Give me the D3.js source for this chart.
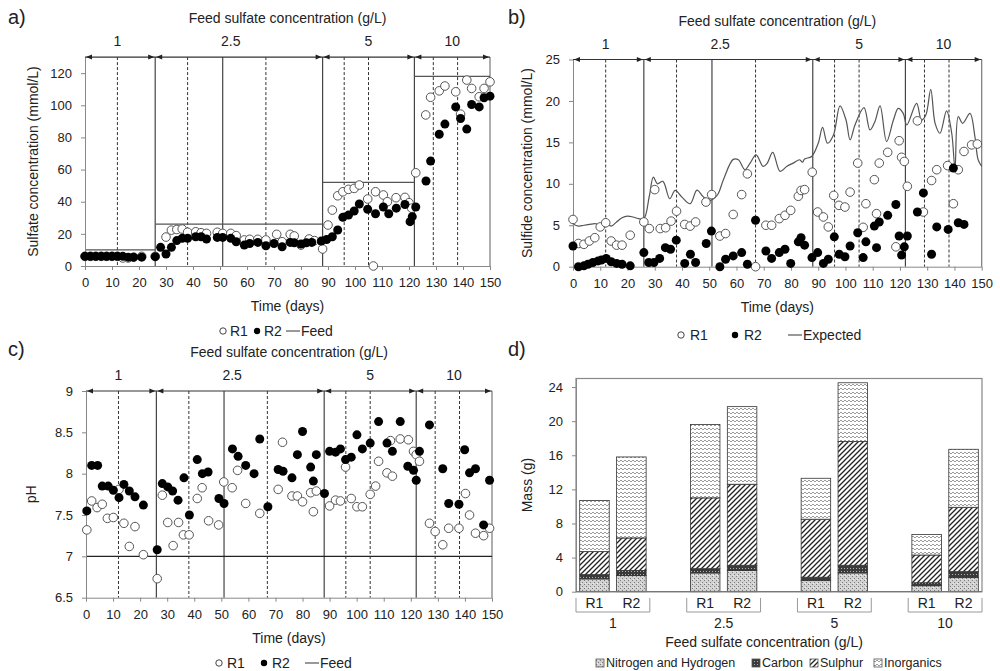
<!DOCTYPE html>
<html><head><meta charset="utf-8">
<script src="https://cdn.jsdelivr.net/npm/d3@7"></script>
<style>
body{margin:0;background:#fff}
svg{display:block}
text{font-family:'Liberation Sans',Arial,sans-serif;fill:#222}
</style>
</head><body>
<script>
// ---------------- DATA ----------------
const phaseStart = [0, 26, 88, 122];
const phaseEnd = [26, 88, 122, 150];
const phaseLabels = ["1", "2.5", "5", "10"];
const phaseLabelDays = [12, 54, 105, 136];
const solidDays = [26, 51, 88, 122];
const dashedDays = [12, 38, 67, 96, 105, 129, 138];
const dayTicks = [0,10,20,30,40,50,60,70,80,90,100,110,120,130,140,150];

// a) sulfate (mmol/L)
const sulfateR1 = [[0,6],[2,6],[4,6],[6,6],[8,6],[10,6],[12,6],[14,5],[16,5],[18,5.5],[21,6],
[26,6],[30,18],[32,22.3],[34,22.7],[36,23],[38,21],[41,21.3],[43,20.7],[45,20.3],[49,21],[51,20.3],[54,20.3],[56,18.9],[59,16.2],[61,16.6],[64,16.6],[67,16.2],[71,19.7],[73,15.1],[76,19.7],[77.5,18.7],[80,13],[83,16.8],[85,15.8],[88,10.6],
[90,25.5],[91.6,34.8],[93.6,43.7],[95.5,46.2],[97.6,47.7],[99.7,48.3],[101.6,50.4],[104.7,41.7],[106.8,0],[107.6,46.2],[110.5,44.2],[112,40],[115.2,42.5],[118.5,42.7],[120,39.4],[121,36],
[122.5,58],[126.2,94],[128,105],[131.2,109],[133.3,112],[137.3,108.4],[139.1,94.5],[141.4,115.7],[143.2,110.5],[146,105.3],[147.8,110.5],[150,114.6]];
const sulfateR2 = [[0,6],[2,6],[4,6],[6,6],[8,6],[10,6],[12,6],[14,6],[16,5.5],[18,5.5],[21,5.5],
[26,5.8],[28,11.6],[30,7.5],[32,11.6],[34,15.8],[36,17.2],[38,17.2],[41,18.2],[43,18.2],[45,16.8],[49,17.8],[51,17.8],[54,17.2],[56,15.1],[59,13],[61,14],[64,14.7],[67,12.6],[70,14],[73,12],[76,14.7],[77.5,14.5],[80,13.7],[82,14.5],[84,14.7],[87.5,15.5],
[89.5,16.5],[91.6,18.2],[93.6,22.4],[95.5,30.3],[97.6,31.7],[99.7,34.2],[101.6,38.6],[104.7,35.3],[107.6,32.5],[110.5,36.7],[112.5,32.5],[115.3,36],[118.5,38.3],[120.4,27.6],[121.2,30.7],
[122.5,36.7],[126.3,52.9],[128,65.3],[131.2,82],[133.3,88.3],[137.3,99],[139.1,91.8],[141.4,85.2],[143.2,100.5],[146,99],[147.8,104.7],[150,105.7]];
const feedSulfate = [10, 26, 52, 118];

// b) sulfide (mmol/L)
const sulfideR1 = [[0,5.7],[2,2.8],[4,2.7],[6,3.1],[8,3.5],[10,4.8],[12,5.3],[14,3.1],[16,2.6],[18,2.6],[21,3.8],
[26,5.4],[28,4.6],[30,9.3],[32,4.6],[34,4.7],[36,5.5],[38,6.7],[41,5.1],[43,4.9],[45,5.4],[48.8,7.8],[50.9,8.7],[53.9,3.7],[56,4.0],[58.8,6.3],[61.9,8.7],[64,11.2],[67,0],[70.8,5.0],[72.9,5.0],[75.7,5.8],[77.8,6.2],[79.9,6.8],[82.7,8.5],[83.7,9.2],[85,9.3],[87.8,11.4],
[89.8,6.6],[91.9,6.0],[93.7,4.8],[95.7,8.6],[97.6,7.4],[99.8,7.2],[101.7,9.0],[104.5,12.5],[106.5,4.75],[107.5,7.6],[110.6,10.5],[111.4,6.4],[112.4,12.5],[115.5,13.8],[118.5,2.4],[119.7,15.2],[120.6,13.2],[121.6,12.7],
[122.7,9.7],[126.4,17.6],[128.6,6.6],[131.6,10.4],[133.5,11.7],[137.5,12.2],[139.6,7.6],[141.4,11.7],[143.5,13.9],[146.3,14.7],[148.4,14.8]];
const sulfideR2 = [[0,2.5],[2,0],[4,0.1],[5.5,0.3],[7.3,0.5],[9.2,0.7],[10.4,0.8],[12.2,1.0],[14,0.6],[16,0.4],[18,0.3],[21,0.1],
[26,1.7],[27.8,0.5],[29.7,0.5],[31.8,1.0],[33.9,2.3],[35.8,2.1],[37.9,3.2],[41,0.4],[43.1,1.5],[45,0.5],[48.9,2.8],[50.8,4.3],[53.9,0],[56,0.9],[58.8,1.3],[61.9,1.7],[64,0.3],[67,5.6],[70.8,1.9],[72.9,1.0],[75.7,1.7],[77.8,2.1],[79.9,0.4],[82.7,3.0],[83.7,3.5],[85,2.6],[87.7,1.1],
[89.8,1.7],[91.9,0.4],[93.7,0.9],[95.9,3.6],[97.7,1.5],[99.8,1.2],[101.7,2.5],[104.5,4.1],[106.5,1.1],[107.5,3.0],[110.6,4.9],[111.4,2.3],[112.4,5.4],[115.5,6.2],[118.5,7.5],[119.7,3.7],[120.6,1.4],[121.6,2.4],
[122.7,3.7],[126.4,6.6],[128.6,8.9],[131.6,1.5],[133.5,4.8],[137.7,4.5],[139.6,11.9],[141.4,5.3],[143.5,5.1]];
const expectedSulfide = [[0,5.15],[2,4.9],[4,5.0],[6,5.1],[8,5.2],[10,5.1],[12,5.3],[14,4.9],[16,5.4],[18,5.9],[20,6.1],[22,6.0],[24,5.8],[26,5.8],[28,8.5],[29.5,10.8],[31,10.0],[33,10.3],[35.5,8.2],[37.5,9.2],[40,8.4],[43,7.6],[45.5,9.25],[47.9,8.4],[50.3,8.0],[53,8.65],[55.2,10.5],[58.8,12.95],[60.7,12.9],[63.1,11.7],[65,12.5],[67.2,13.5],[69.8,12.1],[71.3,12.5],[73.3,13.8],[76,11.5],[78.4,12.1],[80.8,12.5],[83.2,12.9],[84.2,12.6],[85,13],[87.6,13.3],[90,14.9],[91.6,16.8],[93.4,14.9],[95.6,15.9],[98,19.4],[100.2,17.7],[101.7,15.3],[103.5,17.1],[106.8,19.2],[109,16.5],[110.8,17.5],[112.7,19.4],[115.1,15.1],[117.6,17.7],[119.4,19.1],[121.2,18.5],[122.5,17.1],[126.1,19.7],[127.9,17.7],[129.5,18.3],[131.3,21.4],[132.9,17.3],[134.7,16.1],[137.1,18.8],[139,16.1],[140.2,11.9],[141.4,18.1],[143,17.3],[145.7,18.5],[147.5,15.7],[148.7,12.9],[150,12.1]];

// c) pH
const phR1 = [[0.3,7.32],[2.1,7.67],[4.1,7.59],[6,7.63],[7.9,7.46],[10.1,7.47],[12.2,7.81],[14,7.4],[16,7.12],[18.1,7.36],[21.2,7.02],
[26.3,6.73],[28.2,7.74],[30.2,7.41],[32.2,7.13],[34.2,7.41],[36,7.26],[38.1,7.26],[41.1,7.7],[42.9,7.83],[45.3,7.43],[49,7.38],[50.9,7.9],[54,7.83],[56,8.04],[59,7.64],[64.2,7.52],[71,7.81],[72.6,8.38],[76.1,7.73],[78.1,7.73],[80,7.66],[83,7.77],[84,7.54],[85.1,7.79],
[90,7.61],[92.2,7.68],[94,7.67],[95.9,8.08],[98,7.7],[100.1,7.6],[102.1,7.6],[105,7.75],[107,7.85],[108.1,8.15],[111.2,8.01],[112.5,8.4],[113.2,7.97],[116.1,8.42],[119.1,8.41],[121,8.27],[122,8.23],[123.2,8.15],
[126.9,7.4],[129,7.3],[131.8,7.14],[134,7.34],[137.8,7.34],[140.2,7.76],[141.7,7.5],[143.9,7.28],[146.9,7.25],[149.1,7.34]];
const phR2 = [[0.3,7.55],[2.1,8.1],[4.3,8.1],[6,7.85],[8.2,7.85],[10.1,7.8],[12.2,7.71],[14,7.87],[16,7.79],[18.1,7.72],[21.2,7.62],
[26.3,7.08],[28.2,7.88],[30.2,7.84],[32,7.79],[34,7.68],[36.2,7.95],[38.2,7.5],[41.1,8.17],[43,8.0],[45.1,8.02],[49.1,7.7],[51,7.64],[54.1,8.3],[56.2,8.21],[59,8.1],[62.1,8.0],[64.2,8.42],[67.2,7.6],[71,8.05],[72.8,8.03],[76.1,7.95],[78.1,8.23],[80,8.51],[83,8.08],[84,7.91],[85.1,8.23],[88.1,7.76],
[90,8.27],[92.2,8.26],[94,8.3],[95.9,8.17],[98,8.2],[100.1,8.47],[102.1,8.3],[105,8.37],[108.1,8.63],[111.2,8.37],[113.2,8.27],[116.1,8.63],[118.9,8.09],[121,8.04],[122,7.92],[123.2,8.27],
[126.9,8.59],[131.8,8.06],[134,7.64],[137.8,7.63],[139.9,8.29],[141.7,8.01],[143.9,8.06],[146.9,7.38],[149.1,7.92]];
const feedPH = 7;

// d) mass balance (g)
const feedGroups = ["1", "2.5", "5", "10"];
const reactors = ["R1", "R2"];
const nitrogenHydrogen = [1.5, 1.9, 2.2, 2.5, 1.3, 2.2, 0.7, 1.65];
const carbon = [0.5, 0.6, 0.5, 0.6, 0.4, 0.9, 0.35, 0.7];
const sulphur = [2.7, 3.8, 8.3, 9.5, 6.8, 14.5, 3.25, 7.55];
const inorganics = [6.0, 9.5, 8.6, 9.1, 4.8, 6.9, 2.4, 6.8];
const massTicks = [0, 4, 8, 12, 16, 20, 24];
const componentNames = ["Nitrogen and Hydrogen", "Carbon", "Sulphur", "Inorganics"];

// ---------------- DRAW ----------------
const svg = d3.select("body").append("svg").attr("width", 1000).attr("height", 671);
const defs = svg.append("defs");

function styleAxis(sel) {
  sel.select(".domain").attr("stroke", "#888");
  sel.selectAll(".tick line").attr("stroke", "#888");
  sel.selectAll(".tick text").attr("font-size", 13).attr("fill", "#222")
    .attr("font-family", "'Liberation Sans',Arial,sans-serif");
}

function timePanel(c) {
  const g = svg.append("g");
  const x = d3.scaleLinear().domain([0, 150]).range([c.xl, c.xr]);
  const y = d3.scaleLinear().domain(c.yDomain).range([c.yb, c.yt]);
  const yT = y(c.yDomain[1]), yB = y(c.yDomain[0]);

  g.selectAll("line.dash").data(dashedDays).join("line").attr("class", "dash")
    .attr("x1", d => x(d)).attr("x2", d => x(d)).attr("y1", yT).attr("y2", yB)
    .attr("stroke", "#333").attr("stroke-width", 1).attr("stroke-dasharray", "3,2");
  g.selectAll("line.solid").data(solidDays).join("line").attr("class", "solid")
    .attr("x1", d => x(d)).attr("x2", d => x(d)).attr("y1", yT).attr("y2", yB)
    .attr("stroke", "#444").attr("stroke-width", 1.2);
  g.append("line").attr("x1", x(150)).attr("x2", x(150)).attr("y1", yT).attr("y2", yB)
    .attr("stroke", "#777").attr("stroke-width", 1.2);

  if (c.feedLevels) {
    g.selectAll("line.feed").data(c.feedLevels).join("line").attr("class", "feed")
      .attr("x1", (d, i) => x(phaseStart[i])).attr("x2", (d, i) => x(phaseEnd[i]))
      .attr("y1", d => y(d)).attr("y2", d => y(d))
      .attr("stroke", "#555").attr("stroke-width", 1.2);
  }
  if (c.flatLine !== undefined) {
    g.append("line").attr("x1", x(0)).attr("x2", x(150)).attr("y1", y(c.flatLine)).attr("y2", y(c.flatLine))
      .attr("stroke", "#222").attr("stroke-width", 1.1);
  }
  if (c.curve) {
    g.append("path").datum(c.curve)
      .attr("d", d3.line().x(d => x(d[0])).y(d => y(d[1])).curve(d3.curveCatmullRom.alpha(0.5)))
      .attr("fill", "none").attr("stroke", "#555").attr("stroke-width", 1.2);
  }

  const xa = g.append("g").attr("transform", `translate(0,${yB})`)
    .call(d3.axisBottom(x).tickValues(dayTicks).tickSize(4).tickSizeOuter(0).tickPadding(8));
  styleAxis(xa);
  const ya = g.append("g").attr("transform", `translate(${c.xl},0)`)
    .call(d3.axisLeft(y).tickValues(c.yTicks).tickSize(4).tickSizeOuter(0).tickPadding(9).tickFormat(c.fmt || d3.format("")));
  styleAxis(ya);

  // top arrow line
  g.append("line").attr("x1", x(0)).attr("x2", x(150)).attr("y1", yT).attr("y2", yT)
    .attr("stroke", "#333").attr("stroke-width", 1.2);
  phaseStart.forEach((s, i) => {
    const a = x(s) + 1, b = x(phaseEnd[i]) - 1;
    g.append("path").attr("d", `M${a},${yT}L${a + 6},${yT - 2.5}L${a + 6},${yT + 2.5}Z`).attr("fill", "#222");
    g.append("path").attr("d", `M${b},${yT}L${b - 6},${yT - 2.5}L${b - 6},${yT + 2.5}Z`).attr("fill", "#222");
  });
  g.selectAll("text.phase").data(phaseLabels).join("text").attr("class", "phase")
    .attr("x", (d, i) => x(phaseLabelDays[i])).attr("y", yT - 11)
    .attr("text-anchor", "middle").attr("font-size", 14).text(d => d);
  g.append("text").attr("x", (c.xl + c.xr) / 2).attr("y", yT - 34).attr("text-anchor", "middle")
    .attr("font-size", 14).text("Feed sulfate concentration (g/L)");
  g.append("text").attr("x", (c.xl + c.xr) / 2).attr("y", yB + 45).attr("text-anchor", "middle")
    .attr("font-size", 14).text("Time (days)");
  g.append("text").attr("transform", `translate(${c.yLabelX},${(yT + yB) / 2}) rotate(-90)`)
    .attr("text-anchor", "middle").attr("font-size", 14).text(c.yLabel);
  g.append("text").attr("x", c.letterX).attr("y", c.letterY).attr("font-size", 20).text(c.letter);

  // series
  g.selectAll("circle.r1").data(c.r1).join("circle").attr("class", "r1")
    .attr("cx", d => x(d[0])).attr("cy", d => y(d[1])).attr("r", 4.3)
    .attr("fill", "#fff").attr("stroke", "#555").attr("stroke-width", 1);
  g.selectAll("circle.r2").data(c.r2).join("circle").attr("class", "r2")
    .attr("cx", d => x(d[0])).attr("cy", d => y(d[1])).attr("r", 4.5)
    .attr("fill", "#000");

  // legend
  const L = c.legend, ly = c.legendY;
  g.append("circle").attr("cx", L[0]).attr("cy", ly).attr("r", 3.2).attr("fill", "#fff").attr("stroke", "#444");
  g.append("text").attr("x", L[1]).attr("y", ly).attr("dy", "0.35em").attr("font-size", 14).text("R1");
  g.append("circle").attr("cx", L[2]).attr("cy", ly).attr("r", 3.2).attr("fill", "#000");
  g.append("text").attr("x", L[3]).attr("y", ly).attr("dy", "0.35em").attr("font-size", 14).text("R2");
  g.append("line").attr("x1", L[4]).attr("x2", L[4] + 14).attr("y1", ly).attr("y2", ly).attr("stroke", "#555").attr("stroke-width", 1.2);
  g.append("text").attr("x", L[4] + 15).attr("y", ly).attr("dy", "0.35em").attr("font-size", 14).text(c.lineName);
}

timePanel({
  xl: 85, xr: 490, yb: 266, yt: 266 - 130 * 1.607, yDomain: [0, 130], yTicks: [0, 20, 40, 60, 80, 100, 120],
  r1: sulfateR1, r2: sulfateR2, feedLevels: feedSulfate,
  yLabel: "Sulfate concentration (mmol/L)", yLabelX: 38, letter: "a)", letterX: 8, letterY: 24,
  legend: [223, 230, 257, 264, 286], legendY: 331, lineName: "Feed"
});
timePanel({
  xl: 573, xr: 981.7, yb: 266.7, yt: 59.5, yDomain: [0, 25], yTicks: [0, 5, 10, 15, 20, 25],
  r1: sulfideR1, r2: sulfideR2, curve: expectedSulfide,
  yLabel: "Sulfide concentration (mmol/L)", yLabelX: 532, letter: "b)", letterX: 508, letterY: 24,
  legend: [681, 690, 735, 744, 788], legendY: 335, lineName: "Expected"
});
timePanel({
  xl: 86, xr: 492, yb: 597.7, yt: 391, yDomain: [6.5, 9], yTicks: [6.5, 7, 7.5, 8, 8.5, 9],
  r1: phR1, r2: phR2, flatLine: feedPH,
  yLabel: "pH", yLabelX: 36, letter: "c)", letterX: 8, letterY: 356,
  legend: [219, 227, 264, 272, 305], legendY: 663, lineName: "Feed"
});

// ---------- panel d ----------
(function () {
  const mk = (id, w, h, draw) => {
    const p = defs.append("pattern").attr("id", id).attr("patternUnits", "userSpaceOnUse").attr("width", w).attr("height", h);
    draw(p);
  };
  mk("pNH", 4, 4, p => {
    p.append("rect").attr("width", 4).attr("height", 4).attr("fill", "#d2d2d2");
    p.append("rect").attr("x", 0).attr("y", 0).attr("width", 1).attr("height", 1).attr("fill", "#7a7a7a");
    p.append("rect").attr("x", 2).attr("y", 2).attr("width", 1).attr("height", 1).attr("fill", "#7a7a7a");
    p.append("rect").attr("x", 1).attr("y", 3).attr("width", 1).attr("height", 1).attr("fill", "#f0f0f0");
  });
  mk("pC", 3, 3, p => {
    p.append("rect").attr("width", 3).attr("height", 3).attr("fill", "#3a3a3a");
    p.append("rect").attr("x", 1).attr("y", 1).attr("width", 1).attr("height", 1).attr("fill", "#b0b0b0");
  });
  mk("pS", 5, 5, p => {
    p.append("rect").attr("width", 5).attr("height", 5).attr("fill", "#fff");
    p.append("path").attr("d", "M-1,1L1,-1M0,5L5,0M4,6L6,4").attr("stroke", "#222").attr("stroke-width", 1.3);
  });
  mk("pI", 4, 4, p => {
    p.append("rect").attr("width", 4).attr("height", 4).attr("fill", "#fff");
    p.append("rect").attr("x", 0).attr("y", 0).attr("width", 2).attr("height", 1).attr("fill", "#9a9a9a");
    p.append("rect").attr("x", 2).attr("y", 1).attr("width", 2).attr("height", 1).attr("fill", "#9a9a9a");
  });
  const fills = ["url(#pNH)", "url(#pC)", "url(#pS)", "url(#pI)"];

  const slots = [];
  feedGroups.forEach((gname, gi) => {
    reactors.forEach(r => slots.push(gname + "|" + r));
    if (gi < feedGroups.length - 1) slots.push("gap" + gi);
  });
  const x = d3.scaleBand().domain(slots).range([576, 982]).paddingInner(0.2).paddingOuter(0.1);
  const y = d3.scaleLinear().domain([0, 25]).range([591.7, 378.5]);
  const g = svg.append("g");

  const rows = [];
  feedGroups.forEach((gname, gi) => reactors.forEach((r, ri) => {
    const k = gi * 2 + ri;
    rows.push({ key: gname + "|" + r, vals: [nitrogenHydrogen[k], carbon[k], sulphur[k], inorganics[k]] });
  }));
  rows.forEach(row => {
    let acc = 0;
    row.vals.forEach((v, j) => {
      g.append("rect").attr("x", x(row.key)).attr("width", x.bandwidth())
        .attr("y", y(acc + v)).attr("height", y(acc) - y(acc + v))
        .attr("fill", fills[j]).attr("stroke", "#333").attr("stroke-width", 0.8);
      acc += v;
    });
  });

  g.append("rect").attr("x", 576).attr("y", 378.5).attr("width", 406).attr("height", 591.7 - 378.5)
    .attr("fill", "none").attr("stroke", "#888").attr("stroke-width", 1.2);
  const ya = g.append("g").attr("transform", "translate(576,0)")
    .call(d3.axisLeft(y).tickValues(massTicks).tickSize(4).tickSizeOuter(0).tickPadding(9));
  styleAxis(ya);
  g.append("line").attr("x1", 576).attr("x2", 982).attr("y1", 591.7).attr("y2", 591.7).attr("stroke", "#777").attr("stroke-width", 1.2);

  // category labels & brackets
  rows.forEach(row => {
    g.append("text").attr("x", x(row.key) + x.bandwidth() / 2).attr("y", 603).attr("dy", "0.35em")
      .attr("text-anchor", "middle").attr("font-size", 14).text(row.key.split("|")[1]);
  });
  const step = x.step();
  feedGroups.forEach(gname => {
    const a = x(gname + "|R1") - step * 0.1, b = x(gname + "|R2") + x.bandwidth() + step * 0.1;
    g.append("path").attr("d", `M${a},598V612H${b}V598`).attr("fill", "none").attr("stroke", "#999").attr("stroke-width", 1);
    g.append("text").attr("x", (a + b) / 2).attr("y", 623).attr("dy", "0.35em").attr("text-anchor", "middle")
      .attr("font-size", 14).text(gname);
  });
  g.append("text").attr("x", 764).attr("y", 642).attr("dy", "0.35em").attr("text-anchor", "middle")
    .attr("font-size", 14).text("Feed sulfate concentration (g/L)");
  g.append("text").attr("transform", `translate(532,${(378.5 + 591.7) / 2}) rotate(-90)`)
    .attr("text-anchor", "middle").attr("font-size", 14).text("Mass (g)");
  g.append("text").attr("x", 508).attr("y", 356).attr("font-size", 20).text("d)");

  // legend
  const legX = [596, 752, 810, 874];
  componentNames.forEach((n, i) => {
    g.append("rect").attr("x", legX[i]).attr("y", 659).attr("width", 8).attr("height", 8)
      .attr("fill", fills[i]).attr("stroke", "#555").attr("stroke-width", 0.8);
    g.append("text").attr("x", legX[i] + 10).attr("y", 663).attr("dy", "0.35em").attr("font-size", 12.5).text(n);
  });
})();
</script>
</body></html>
